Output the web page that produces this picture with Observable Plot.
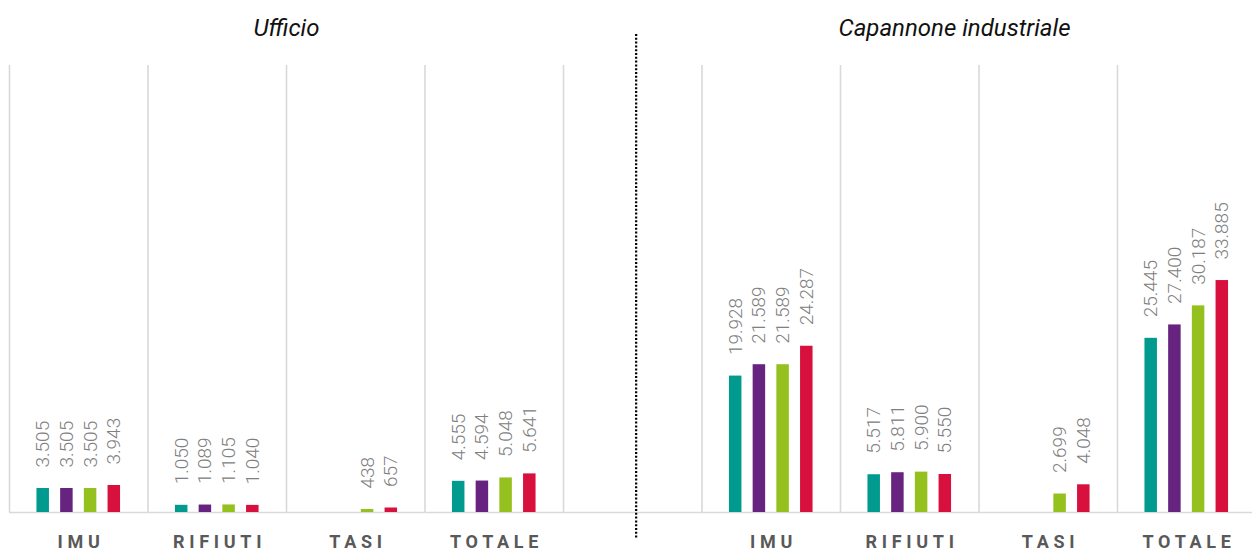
<!DOCTYPE html>
<html>
<head>
<meta charset="utf-8">
<script src="https://cdn.jsdelivr.net/npm/d3@7"></script>
<script src="https://cdn.jsdelivr.net/npm/@observablehq/plot@0.6"></script>
<style>
  html, body { margin: 0; padding: 0; background: #fff; overflow: hidden; }
  #chart svg { max-width: none !important; display: block; }
  g[aria-description="category"] text { letter-spacing: 4.7px; }
</style>
</head>
<body>
<div id="chart"></div>
<script>
// ---- Data ----
const panels = ["Ufficio", "Capannone industriale"];
const categories = ["IMU", "RIFIUTI", "TASI", "TOTALE"];
const seriesNames = ["Serie 1", "Serie 2", "Serie 3", "Serie 4"];
const seriesColors = ["#009a8e", "#66237f", "#95c11f", "#d8103e"];

// Ufficio
const ufficioIMU     = [3505, 3505, 3505, 3943];
const ufficioRifiuti = [1050, 1089, 1105, 1040];
const ufficioTASI    = [null, null, 438, 657];
const ufficioTotale  = [4555, 4594, 5048, 5641];

// Capannone industriale
const capannoneIMU     = [19928, 21589, 21589, 24287];
const capannoneRifiuti = [5517, 5811, 5900, 5550];
const capannoneTASI    = [null, null, 2699, 4048];
const capannoneTotale  = [25445, 27400, 30187, 33885];

// ---- Build tables ----
const panelValues = [
  [ufficioIMU, ufficioRifiuti, ufficioTASI, ufficioTotale],
  [capannoneIMU, capannoneRifiuti, capannoneTASI, capannoneTotale]
];
const GAP = "gap";
const slotKey = (p, c) => c + "|" + p;
const slots = [
  ...categories.map(c => slotKey(panels[0], c)),
  GAP,
  ...categories.map(c => slotKey(panels[1], c))
];
const rows = [];
panels.forEach((p, pi) => categories.forEach((c, ci) => seriesNames.forEach((s, si) => {
  const v = panelValues[pi][ci][si];
  if (v != null) rows.push({slot: slotKey(p, c), series: s, value: v});
})));
const catLabels = slots.filter(s => s !== GAP).map(s => ({slot: s, label: s.split("|")[0]}));
const titleShifts = [-69.25, -93.75];
const titles = panels.map((p, i) => ({slot: slotKey(p, "TASI"), label: p, shift: titleShifts[i]}));

const fmt = d3.formatLocale({decimal: ",", thousands: ".", grouping: [3], currency: ["", "€"]}).format(",d");

const W = 1256, H = 551;
const half = (W - 9 - 0.5) / slots.length / 2;

const chart = Plot.plot({
  width: W,
  height: H,
  marginTop: 65,
  marginBottom: 39,
  marginLeft: 9,
  marginRight: 0.5,
  style: {fontFamily: "Roboto, sans-serif", background: "#fff"},
  fx: {domain: slots, padding: 0, axis: null, round: false},
  x: {domain: seriesNames, paddingInner: 0.473, paddingOuter: 1.158, axis: null, round: false},
  y: {domain: [0, 65300], axis: null},
  color: {domain: seriesNames, range: seriesColors},
  marks: [
    // vertical separators at the left edge of each slot
    Plot.ruleX(slots, {fx: d => d, x: null, dx: -half, stroke: "#d9d9d9", strokeWidth: 1.6}),
    // baseline
    Plot.ruleY(slots, {fx: d => d, y: () => 0, stroke: "#d9d9d9", strokeWidth: 1.6}),
    // dotted divider between panels
    Plot.ruleX([GAP], {fx: d => d, x: null, dx: 3.4, insetTop: -31, insetBottom: -26,
      stroke: "#000", strokeWidth: 2.2, strokeDasharray: "2,1.8"}),
    // bars
    Plot.barY(rows, {fx: "slot", x: "series", y: "value", fill: "series"}),
    // value labels
    Plot.text(rows, {fx: "slot", x: "series", y: "value", text: d => fmt(d.value),
      rotate: -90, textAnchor: "start", dy: -21, fill: "#808080",
      fontSize: 19, fontWeight: 300}),
    // category labels
    Plot.text(catLabels, {fx: "slot", text: "label", frameAnchor: "bottom", lineAnchor: "bottom",
      dy: 35, dx: 2.3, fill: "#595959", fontSize: 18, fontWeight: "bold", ariaDescription: "category"}),
    // panel titles
    ...titles.map(t => Plot.text([t], {fx: "slot", text: "label", frameAnchor: "top", lineAnchor: "bottom",
      dx: t.shift, dy: -30, fill: "#111", fontSize: 24, fontStyle: "italic"}))
  ]
});
document.getElementById("chart").appendChild(chart);
</script>
</body>
</html>
